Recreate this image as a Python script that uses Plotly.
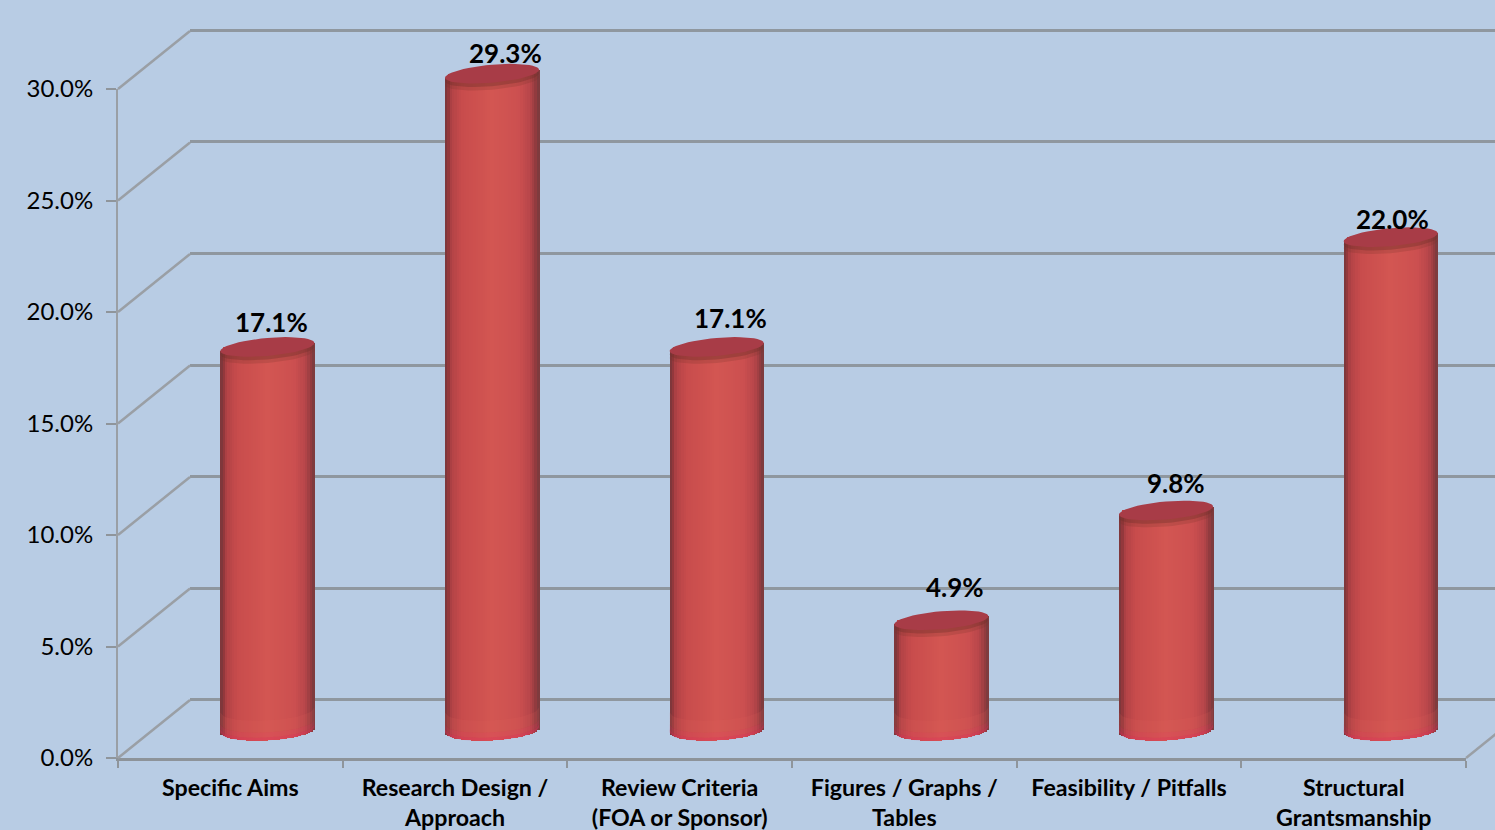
import math
import plotly.graph_objects as go

categories = ["Specific Aims", "Research Design /<br>Approach", "Review Criteria<br>(FOA or Sponsor)",
              "Figures / Graphs /<br>Tables", "Feasibility / Pitfalls", "Structural<br>Grantsmanship"]
values = [17.1, 29.3, 17.1, 4.9, 9.8, 22.0]
y_ticks = [0, 5, 10, 15, 20, 25, 30]
y_labels = ["0.0%", "5.0%", "10.0%", "15.0%", "20.0%", "25.0%", "30.0%"]
label_shift_x = [4, 13, 14, 14, 10, 2]
label_shift_y = [25, 21, 29, 33, 27, 18]

W, H = 1495, 830
BG = "#b8cce4"
GRID = "#8f979f"
FONT = "Lato"
CAT_PX = 224.67
Y_PX = 22.3
BAR_Y_PX = 22.4
BAR_HALF = 47.0
CAP_B = 9.0
BASE_B = 10.5
CAP_TILT = 4.0
BASE_TILT = 2.5


def xd(a, b):
    return [a / W, b / W]


def yd(bottom_px, top_px):
    return [(H - bottom_px) / H, (H - top_px) / H]


def lerp_color(t):
    stops = [(0.0, (118, 56, 60)), (0.03, (140, 54, 58)), (0.07, (178, 66, 70)), (0.18, (200, 76, 76)),
             (0.5, (211, 86, 82)), (0.78, (204, 80, 80)), (0.9, (184, 70, 74)), (0.97, (142, 58, 62)),
             (1.0, (116, 60, 62))]
    for (t0, c0), (t1, c1) in zip(stops, stops[1:]):
        if t <= t1:
            f = (t - t0) / (t1 - t0)
            c = [round(p + (q - p) * f) for p, q in zip(c0, c1)]
            return f"rgb({c[0]},{c[1]},{c[2]})"
    return "rgb(116,60,62)"


fig = go.Figure()
centers = [i + 0.5 for i in range(len(values))]

# side-wall diagonals, on a hidden full-canvas copy of the front scale
dx_back = 72 / CAT_PX
dy_back = 58 / Y_PX
dx_list, dy_list = [], []
for tv in y_ticks:
    dx_list += [0, dx_back, None]
    dy_list += [tv, tv + dy_back, None]
dx_list += [6, 6 + dx_back, None]
dy_list += [0, dy_back, None]
fig.add_trace(go.Scatter(x=dx_list, y=dy_list, mode="lines", line=dict(color="#9a9fa5", width=2.5),
                         xaxis="x4", yaxis="y4", showlegend=False, hoverinfo="skip"))

# empty trace keeps the back-wall subplot alive
fig.add_trace(go.Scatter(x=[0], y=[0], mode="markers", marker=dict(opacity=0, size=1),
                         xaxis="x", yaxis="y", hoverinfo="skip", showlegend=False))

# the series itself
fig.add_trace(go.Bar(x=centers, y=values, width=(2 * BAR_HALF - 6) / CAT_PX, marker=dict(color="#c84a4a", line_width=0),
                     xaxis="x2", yaxis="y2", showlegend=False, name="Share"))

# cylinder shading strips
N = 40
for i in range(N):
    t = (i + 0.5) / N
    dx = (t * 2 - 1) * BAR_HALF
    frac = dx / BAR_HALF
    low_px = BASE_TILT * frac - BASE_B * math.sqrt(max(0.0, 1 - frac ** 2))
    top_px = CAP_TILT * frac
    bases = [low_px / BAR_Y_PX] * len(values)
    heights = [v + (top_px - low_px) / BAR_Y_PX for v in values]
    width = 2 * BAR_HALF / N / CAT_PX
    fig.add_trace(go.Bar(x=centers, y=heights, base=bases,
                         offset=(dx - BAR_HALF / N) / CAT_PX, width=width * 1.25,
                         marker=dict(color=lerp_color(t), line_width=0),
                         xaxis="x2", yaxis="y2", showlegend=False, hoverinfo="skip", cliponaxis=False))


def ellipse(cx_val, y_val, b, tilt, y_off=0.0, steps=48):
    xs, ys = [], []
    for j in range(steps + 1):
        ang = 2 * math.pi * j / steps
        c, s = math.cos(ang), math.sin(ang)
        xs.append(cx_val + BAR_HALF * c / CAT_PX)
        ys.append(y_val + (b * s + tilt * c + y_off) / BAR_Y_PX)
    return xs, ys


def band(cx_val, bottom_inner, bottom_outer, steps=30):
    xs, ys = [], []
    for j in range(steps + 1):
        f = -1 + 2 * j / steps
        xs.append(cx_val + BAR_HALF * f / CAT_PX)
        ys.append((BASE_TILT * f - BASE_B * math.sqrt(1 - f * f) + bottom_outer) / BAR_Y_PX)
    for j in range(steps, -1, -1):
        f = -1 + 2 * j / steps
        xs.append(cx_val + BAR_HALF * f / CAT_PX)
        ys.append((BASE_TILT * f - BASE_B * math.sqrt(1 - f * f) + bottom_inner) / BAR_Y_PX)
    return xs, ys


def multi(builder):
    X, Y = [], []
    for c, v in zip(centers, values):
        xs, ys = builder(c, v)
        X += xs + [None]
        Y += ys + [None]
    return X, Y


def add_fill(X, Y, color):
    fig.add_trace(go.Scatter(x=X, y=Y, mode="lines", fill="toself", fillcolor=color, line=dict(width=0),
                             xaxis="x2", yaxis="y2", showlegend=False, hoverinfo="skip", cliponaxis=False))


# lighter lower bands
X, Y = multi(lambda c, v: band(c, 20, 8))
add_fill(X, Y, "rgba(228,100,90,0.14)")
X, Y = multi(lambda c, v: band(c, 8, 3))
add_fill(X, Y, "rgba(232,70,100,0.22)")
X, Y = multi(lambda c, v: band(c, 3, 0))
add_fill(X, Y, "rgba(228,50,95,0.40)")

# shadow below the cap
X, Y = multi(lambda c, v: ellipse(c, v, CAP_B, CAP_TILT, -7))
add_fill(X, Y, "rgba(120,50,40,0.22)")
X, Y = multi(lambda c, v: ellipse(c, v, CAP_B, CAP_TILT, -3.5))
add_fill(X, Y, "rgba(110,45,40,0.35)")
# cap
X, Y = multi(lambda c, v: ellipse(c, v, CAP_B, CAP_TILT))
add_fill(X, Y, "#a83c47")

# front axes carrier
fig.add_trace(go.Scatter(x=[0], y=[0], mode="markers", marker=dict(opacity=0, size=1),
                         xaxis="x3", yaxis="y3", hoverinfo="skip", showlegend=False))

annotations = [dict(x=c, y=v, xref="x2", yref="y2", text=f"{v:.1f}%", showarrow=False,
                    xshift=sx, yshift=sy, xanchor="center", yanchor="middle",
                    font=dict(family=FONT, size=26, color="#000000", weight="bold"))
               for c, v, sx, sy in zip(centers, values, label_shift_x, label_shift_y)]

hidden = dict(visible=False, showgrid=False, zeroline=False, automargin=False)
fig.update_layout(
    width=W, height=H, margin=dict(l=0, r=0, t=0, b=0, autoexpand=False), autosize=False,
    paper_bgcolor=BG, plot_bgcolor="rgba(0,0,0,0)", barmode="overlay", bargap=0, showlegend=False,
    annotations=annotations,
    xaxis=dict(domain=xd(190, W), range=[0, (W - 190) / CAT_PX], anchor="y", **hidden),
    yaxis=dict(domain=yd(700 + Y_PX * 1.0, 30 - Y_PX * 1.0), range=[-1, 31], anchor="x", tickmode="array", tickvals=y_ticks, showgrid=True,
               gridcolor=GRID, gridwidth=3, showticklabels=False, ticks="", zeroline=False, showline=False, automargin=False),
    xaxis2=dict(domain=xd(155, W), range=[0, (W - 155) / CAT_PX], anchor="y2", **hidden),
    yaxis2=dict(domain=yd(760, 0), range=[-30 / BAR_Y_PX, 730 / BAR_Y_PX], anchor="x2", **hidden),
    xaxis3=dict(domain=xd(118, 1466), range=[0, 6], anchor="y3", tickmode="array", tickvals=centers, ticktext=categories,
                ticks="outside", ticklen=7, tickcolor="rgba(0,0,0,0)", tickwidth=1, automargin=False,
                tickfont=dict(family=FONT, size=23.2, color="#000000", weight="bold"),
                minor=dict(ticks="outside", ticklen=7, tickwidth=2, tickcolor="#8f959b", tickmode="array", tickvals=list(range(7))),
                showgrid=False, zeroline=False, showline=True, linecolor="#8d9399", linewidth=3),
    yaxis3=dict(domain=yd(758, 89), range=[0, 30], anchor="x3", tickmode="array", tickvals=y_ticks, ticktext=y_labels,
                ticks="outside", ticklen=10, tickcolor="#8f959b", tickwidth=2, automargin=False, ticklabelstandoff=8,
                tickfont=dict(family=FONT, size=24, color="#000000"),
                showgrid=False, zeroline=False, showline=True, linecolor="#9a9fa5", linewidth=2),
    xaxis4=dict(domain=[0, 1], range=[-118 / CAT_PX, (W - 118) / CAT_PX], anchor="y4", **hidden),
    yaxis4=dict(domain=[0, 1], range=[(758 - H) / Y_PX, 758 / Y_PX], anchor="x4", **hidden),
)

fig.write_html("out.html", config=dict(displayModeBar=False),
               post_script="document.body.style.margin='0';document.documentElement.style.background='%s';" % BG)
